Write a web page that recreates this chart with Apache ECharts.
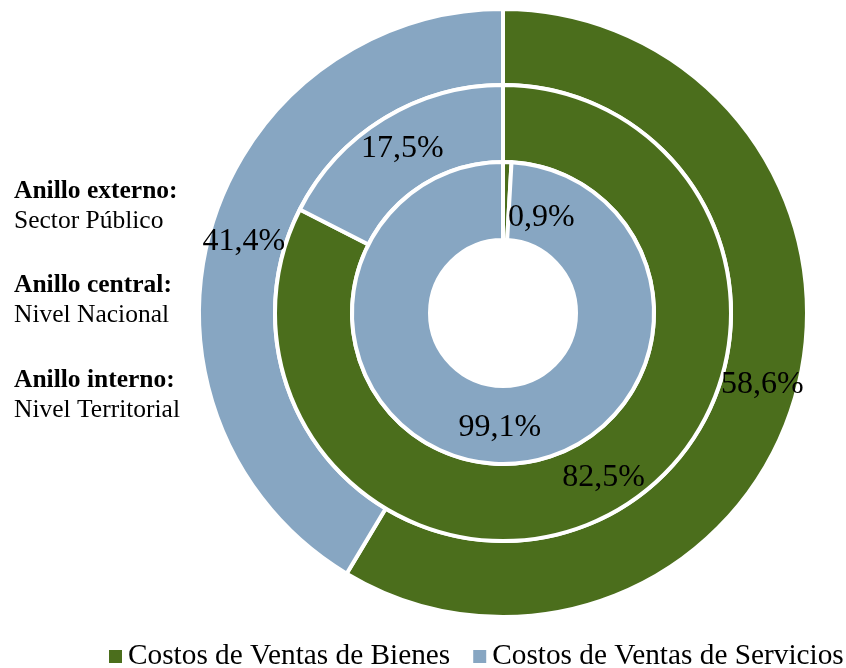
<!DOCTYPE html>
<html>
<head>
<meta charset="utf-8">
<script src="https://cdn.jsdelivr.net/npm/echarts@6/dist/echarts.min.js"></script>
<style>
html, body { margin: 0; padding: 0; background: #fff; }
#chart { width: 846px; height: 668px; }
</style>
</head>
<body>
<div id="chart"></div>
<script>
// categories and ring values (%)
var categories = ['Costos de Ventas de Bienes', 'Costos de Ventas de Servicios'];
var externo = [58.6, 41.4];   // Sector Público
var central = [82.5, 17.5];   // Nivel Nacional
var interno = [0.9, 99.1];    // Nivel Territorial
var colors = ['#4b6e1c', '#87a6c2'];

var serif = '"Liberation Serif", "Times New Roman", serif';

function pct(v) {
    return v.toFixed(1).replace('.', ',') + '%';
}

function ringData(values, special) {
    return values.map(function (v, i) {
        var item = { name: categories[i], value: v };
        if (special && i === 0) {
            // thin slice: label pushed right/down of the slice
            item.label = {
                formatter: function (p) { return '{o|' + pct(p.value) + '}'; },
                rich: { o: { padding: [40, 0, 0, 70], fontSize: 32, fontFamily: serif, color: '#000' } }
            };
        }
        return item;
    });
}

function ring(name, radius, values, special) {
    return {
        name: name,
        type: 'pie',
        center: [503, 313],
        radius: radius,
        startAngle: 90,
        clockwise: true,
        avoidLabelOverlap: false,
        silent: true,
        itemStyle: { borderColor: '#fff', borderWidth: 4 },
        label: {
            show: true,
            position: 'inside',
            color: '#000',
            fontFamily: serif,
            fontSize: 32,
            formatter: function (p) { return pct(p.value); }
        },
        labelLine: { show: false },
        data: ringData(values, special)
    };
}

var leftText = function (top, title, sub) {
    return {
        type: 'text', left: 14, top: top,
        style: {
            text: '{b|' + title + '}\n' + sub,
            font: '25.5px ' + serif, lineHeight: 30, fill: '#000',
            rich: { b: { fontWeight: 'bold', fontSize: 25.5, fontFamily: serif, lineHeight: 30 } }
        }
    };
};

var myChart = echarts.init(document.getElementById('chart'));
var option = {
    animation: false,
    color: colors,
    legend: {
        data: categories,
        left: 107,
        top: 642,
        width: 739,
        padding: 0,
        icon: 'rect',
        itemWidth: 15,
        itemHeight: 15,
        itemGap: 21,
        textStyle: { fontFamily: serif, fontSize: 29.3, color: '#000' }
    },
    graphic: [
        leftText(176, 'Anillo externo:', 'Sector Público'),
        leftText(270, 'Anillo central:', 'Nivel Nacional'),
        leftText(365, 'Anillo interno:', 'Nivel Territorial')
    ],
    series: [
        ring('Anillo externo', [228, 304], externo, false),
        ring('Anillo central', [151, 228], central, false),
        ring('Anillo interno', [73, 151], interno, true)
    ]
};
option && myChart.setOption(option);
</script>
</body>
</html>
